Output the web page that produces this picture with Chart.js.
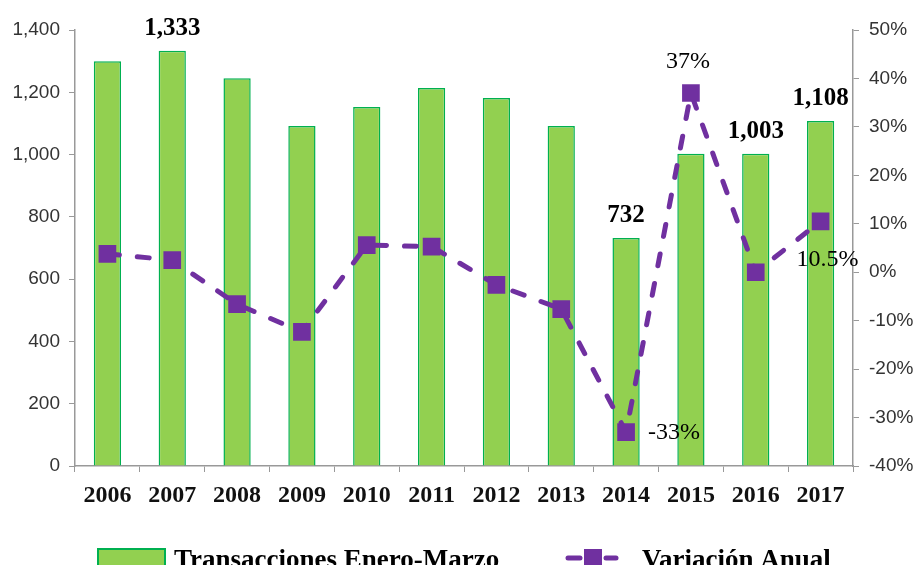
<!DOCTYPE html>
<html>
<head>
<meta charset="utf-8">
<script src="https://cdn.jsdelivr.net/npm/chart.js@4/dist/chart.umd.min.js"></script>
<style>
  html, body { margin: 0; padding: 0; background: #fff; }
  #wrap { width: 920px; height: 565px; position: relative; }
</style>
</head>
<body>
<div id="wrap"><canvas id="chart" width="920" height="565"></canvas></div>
<script>
const years = ['2006', '2007', '2008', '2009', '2010', '2011', '2012', '2013', '2014', '2015', '2016', '2017'];
const transacciones = [1300, 1333, 1245, 1092, 1153, 1214, 1182, 1092, 732, 1003, 1003, 1108];
const variacion = [0.038, 0.025, -0.066, -0.123, 0.056, 0.053, -0.026, -0.076, -0.33, 0.37, 0.0, 0.105];
const barLabels = [null, '1,333', null, null, null, null, null, null, '732', null, '1,003', '1,108'];
const lineLabels = [null, null, null, null, null, null, null, null, '-33%', '37%', null, '10.5%'];
const lineLabelPos = ['', '', '', '', '', '', '', '', 'right', 'top', '', 'below'];

const serif = '"Liberation Serif", "Times New Roman", serif';
const sans = '"Liberation Sans", Arial, sans-serif';
const green = '#92D050', greenBorder = '#00B050', purple = '#7030A0';

const labelsPlugin = {
    id: 'labelsPlugin',
    afterDatasetsDraw(chart) {
        const ctx = chart.ctx;
        const bars = chart.getDatasetMeta(0).data;
        const pts = chart.getDatasetMeta(1).data;
        ctx.save();
        ctx.fillStyle = '#000';
        ctx.font = 'bold 25px ' + serif;
        ctx.textAlign = 'center';
        ctx.textBaseline = 'bottom';
        bars.forEach((b, i) => {
            if (barLabels[i]) ctx.fillText(barLabels[i], b.x, b.y - 10);
        });
        ctx.font = '24px ' + serif;
        ctx.textBaseline = 'middle';
        pts.forEach((p, i) => {
            if (!lineLabels[i]) return;
            const pos = lineLabelPos[i];
            if (pos === 'right') { ctx.textAlign = 'left'; ctx.fillText(lineLabels[i], p.x + 22, p.y + 1); }
            else if (pos === 'top') { ctx.textAlign = 'center'; ctx.fillText(lineLabels[i], p.x - 3, p.y - 31); }
            else { ctx.textAlign = 'center'; ctx.fillText(lineLabels[i], p.x + 7, p.y + 38); }
        });
        ctx.restore();
    },
    afterDraw(chart) {
        // legend at the bottom (cut off like the original)
        const ctx = chart.ctx;
        ctx.save();
        ctx.fillStyle = green;
        ctx.strokeStyle = greenBorder;
        ctx.lineWidth = 2;
        ctx.fillRect(98, 549, 67, 20);
        ctx.strokeRect(98, 549, 67, 20);
        ctx.fillStyle = '#000';
        ctx.font = 'bold 27px ' + serif;
        ctx.textAlign = 'left';
        ctx.textBaseline = 'alphabetic';
        ctx.fillText(chart.data.datasets[0].label, 174, 568);

        ctx.strokeStyle = purple;
        ctx.lineWidth = 5;
        ctx.lineCap = 'round';
        ctx.beginPath(); ctx.moveTo(568, 558); ctx.lineTo(580, 558); ctx.stroke();
        ctx.beginPath(); ctx.moveTo(606, 558); ctx.lineTo(616, 558); ctx.stroke();
        ctx.fillStyle = purple;
        ctx.fillRect(584, 549, 18, 18);
        ctx.fillStyle = '#000';
        ctx.fillText(chart.data.datasets[1].label, 642, 568);
        ctx.restore();
    }
};

new Chart(document.getElementById('chart').getContext('2d'), {
    type: 'bar',
    data: {
        labels: years,
        datasets: [
            {
                label: 'Transacciones Enero-Marzo',
                data: transacciones,
                backgroundColor: green,
                borderColor: greenBorder,
                borderWidth: 1.5,
                barPercentage: 0.42,
                categoryPercentage: 1,
                yAxisID: 'y',
                order: 2
            },
            {
                type: 'line',
                label: 'Variación Anual',
                data: variacion,
                borderColor: purple,
                borderWidth: 5,
                borderDash: [12, 18],
                borderCapStyle: 'round',
                tension: 0,
                pointStyle: 'rect',
                pointRadius: 12.5,
                pointBackgroundColor: purple,
                pointBorderColor: purple,
                pointBorderWidth: 0,
                yAxisID: 'y1',
                order: 1
            }
        ]
    },
    options: {
        responsive: false,
        animation: false,
        devicePixelRatio: 1,
        layout: { padding: { top: 30, left: 0, right: 0, bottom: 0 } },
        plugins: { legend: { display: false }, tooltip: { enabled: false } },
        scales: {
            x: {
                border: { display: true, color: '#999', width: 1.5 },
                grid: { drawOnChartArea: false, color: '#999', tickLength: 6 },
                ticks: { color: '#111', font: { family: serif, size: 24, weight: 'bold' }, padding: 9, maxRotation: 0 },
                afterFit(scale) { scale.height = 99; }
            },
            y: {
                position: 'left',
                min: 0, max: 1400,
                border: { display: true, color: '#999', width: 1.5 },
                grid: { drawOnChartArea: false, color: '#999', tickLength: 6 },
                ticks: {
                    stepSize: 200,
                    color: '#333',
                    font: { family: sans, size: 19 },
                    padding: 9,
                    callback: v => v.toLocaleString('en-US')
                },
                afterFit(scale) { scale.width = 75; }
            },
            y1: {
                position: 'right',
                min: -0.4, max: 0.5,
                border: { display: true, color: '#999', width: 1.5 },
                grid: { drawOnChartArea: false, color: '#999', tickLength: 6 },
                ticks: {
                    stepSize: 0.1,
                    color: '#333',
                    font: { family: sans, size: 19 },
                    padding: 10,
                    callback: v => Math.round(v * 100) + '%'
                },
                afterFit(scale) { scale.width = 67; }
            }
        }
    },
    plugins: [labelsPlugin]
});
</script>
</body>
</html>
